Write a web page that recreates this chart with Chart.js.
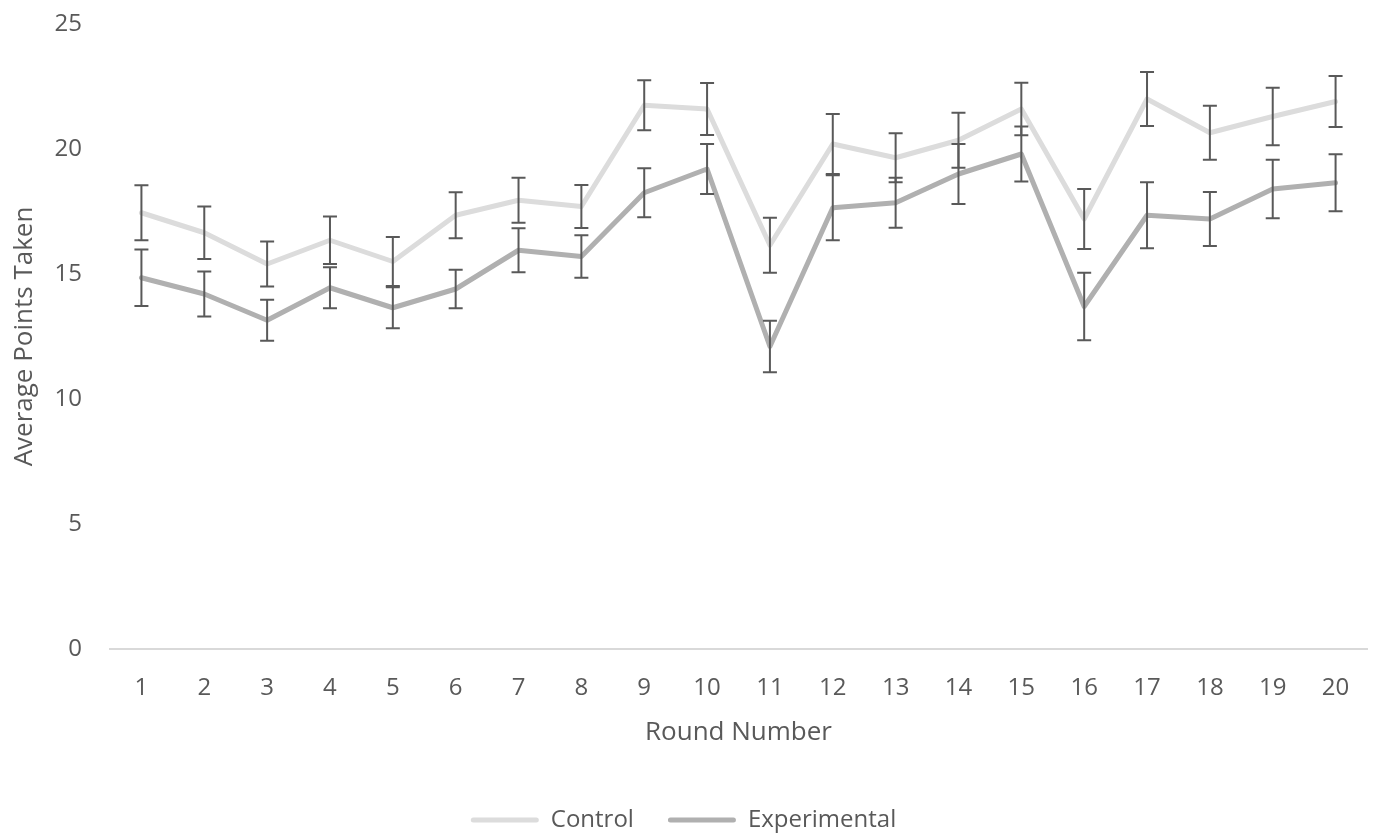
<!DOCTYPE html>
<html>
<head>
<meta charset="utf-8">
<script src="https://cdn.jsdelivr.net/npm/chart.js@4"></script>
<style>
    html, body { margin: 0; padding: 0; background: #ffffff; }
    #grafico { display: block; }
</style>
</head>
<body>
<canvas id="grafico" width="1373" height="833"></canvas>
<script>
const rounds = ['1', '2', '3', '4', '5', '6', '7', '8', '9', '10', '11', '12', '13', '14', '15', '16', '17', '18', '19', '20'];

const controlValues = [17.45, 16.65, 15.4, 16.35, 15.5, 17.35, 17.95, 17.7, 21.75, 21.6, 16.15, 20.2, 19.65, 20.35, 21.6, 17.2, 22.0, 20.65, 21.3, 21.9];
const controlError = [1.1, 1.05, 0.9, 0.95, 0.98, 0.92, 0.9, 0.86, 1.0, 1.04, 1.1, 1.2, 0.98, 1.1, 1.05, 1.2, 1.08, 1.08, 1.15, 1.02];

const experimentalValues = [14.85, 14.2, 13.15, 14.45, 13.65, 14.4, 15.95, 15.7, 18.25, 19.2, 12.1, 17.65, 17.85, 19.0, 19.8, 13.7, 17.35, 17.2, 18.4, 18.65];
const experimentalError = [1.13, 0.9, 0.82, 0.82, 0.82, 0.77, 0.88, 0.85, 0.98, 1.0, 1.03, 1.3, 1.0, 1.2, 1.1, 1.35, 1.32, 1.08, 1.17, 1.14];

const yTicks = [0, 5, 10, 15, 20, 25];

const corTexto = '#595959';
const fonte = "'Open Sans', 'DejaVu Sans', sans-serif";

// desenha as barras de erro usando a escala do proprio grafico
const barrasDeErro = {
    id: 'barrasDeErro',
    afterDatasetsDraw(chart) {
        const ctx = chart.ctx;
        const eixoY = chart.scales.y;
        const erros = [controlError, experimentalError];
        ctx.save();
        ctx.strokeStyle = '#595959';
        ctx.lineWidth = 2;
        chart.data.datasets.forEach((dataset, i) => {
            const meta = chart.getDatasetMeta(i);
            meta.data.forEach((ponto, j) => {
                const valor = dataset.data[j];
                const topo = eixoY.getPixelForValue(valor + erros[i][j]);
                const base = eixoY.getPixelForValue(valor - erros[i][j]);
                const x = ponto.x;
                ctx.beginPath();
                ctx.moveTo(x, topo);
                ctx.lineTo(x, base);
                ctx.moveTo(x - 7, topo);
                ctx.lineTo(x + 7, topo);
                ctx.moveTo(x - 7, base);
                ctx.lineTo(x + 7, base);
                ctx.stroke();
            });
        });
        ctx.restore();
    }
};

const grafico = document.getElementById('grafico');

const graficoRodadas = new Chart(grafico, {
    type: 'line',
    data: {
        labels: rounds,
        datasets: [{
            label: 'Control',
            data: controlValues,
            borderColor: '#dcdcdc',
            backgroundColor: '#dcdcdc',
            borderWidth: 5,
            pointRadius: 0,
            tension: 0,
            borderCapStyle: 'round',
            borderJoinStyle: 'round'
        }, {
            label: 'Experimental',
            data: experimentalValues,
            borderColor: '#b0b0b0',
            backgroundColor: '#b0b0b0',
            borderWidth: 5,
            pointRadius: 0,
            tension: 0,
            borderCapStyle: 'round',
            borderJoinStyle: 'round'
        }]
    },
    options: {
        responsive: false,
        animation: false,
        layout: {
            padding: { top: 24, right: 6, left: 0, bottom: -9 }
        },
        scales: {
            x: {
                offset: true,
                grid: { display: false },
                border: { display: true, color: '#d9d9d9', width: 2 },
                ticks: {
                    color: corTexto,
                    font: { family: fonte, size: 24 },
                    padding: 17,
                    maxRotation: 0
                },
                title: {
                    display: true,
                    text: 'Round Number',
                    color: corTexto,
                    font: { family: fonte, size: 26 },
                    padding: { top: -3, bottom: 26 }
                }
            },
            y: {
                min: 0,
                max: 25,
                afterBuildTicks: (scale) => {
                    scale.ticks = yTicks.map(v => ({ value: v }));
                },
                afterFit: (scale) => {
                    scale.width = 110;
                    scale.paddingTop = 0;
                    scale.paddingBottom = 0;
                },
                grid: { display: false },
                border: { display: false },
                ticks: {
                    color: corTexto,
                    font: { family: fonte, size: 24 },
                    padding: 20
                },
                title: {
                    display: true,
                    text: 'Average Points Taken',
                    color: corTexto,
                    font: { family: fonte, size: 26 },
                    padding: { top: 9, bottom: 0 }
                }
            }
        },
        plugins: {
            legend: {
                position: 'bottom',
                labels: {
                    color: corTexto,
                    font: { family: fonte, size: 24 },
                    boxWidth: 68,
                    boxHeight: 5,
                    padding: 34,
                    useBorderRadius: true,
                    borderRadius: 2.5,
                    generateLabels: (chart) => {
                        const itens = Chart.defaults.plugins.legend.labels.generateLabels(chart);
                        itens.forEach(item => { item.lineWidth = 0; });
                        return itens;
                    }
                }
            },
            tooltip: { enabled: false }
        }
    },
    plugins: [barrasDeErro]
});
</script>
</body>
</html>
